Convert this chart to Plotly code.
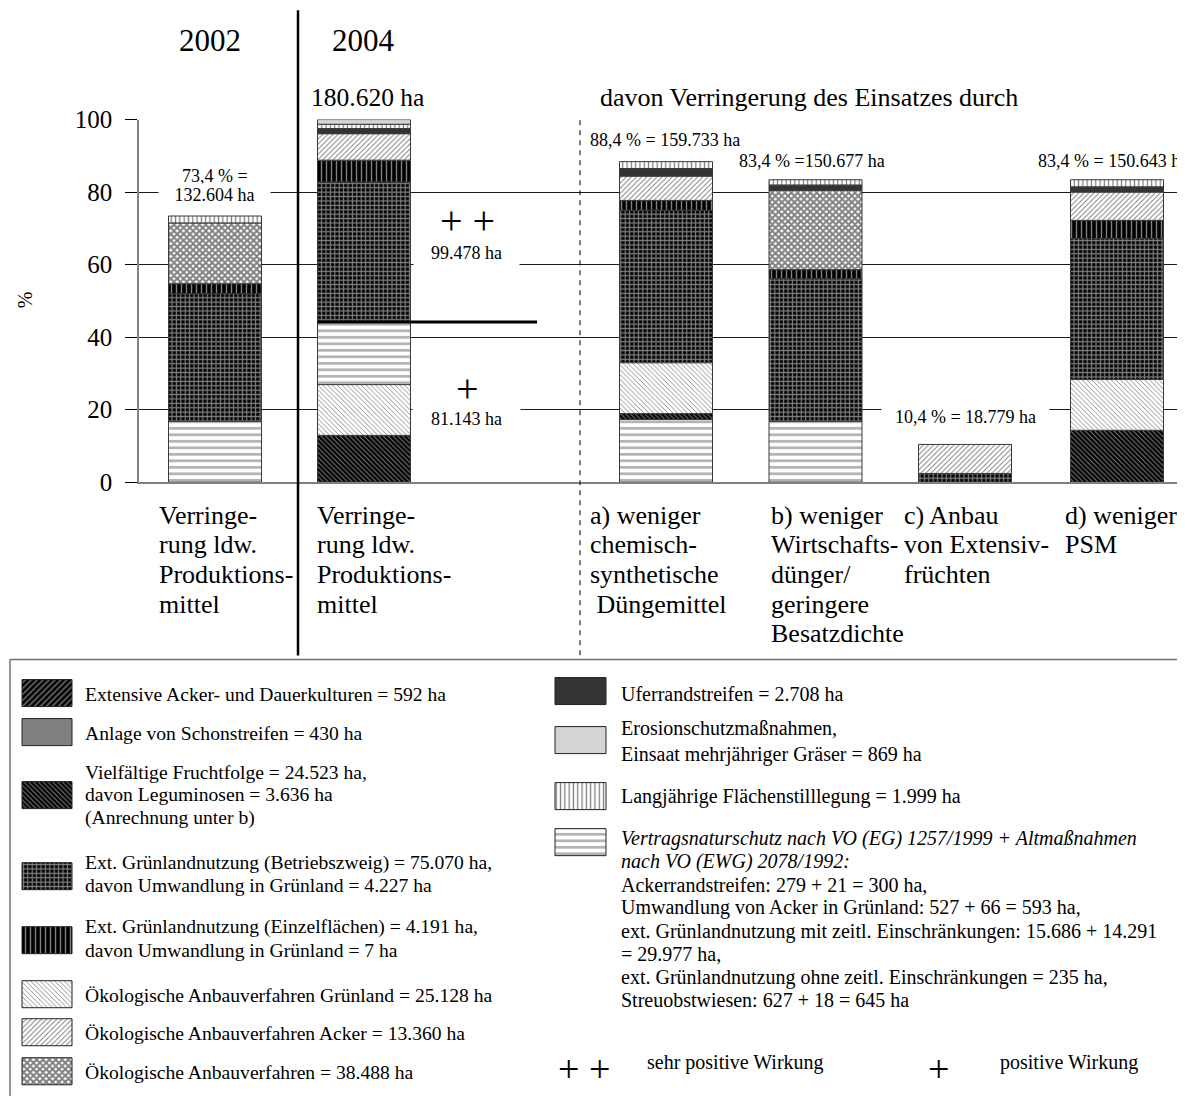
import numpy as np
import plotly.graph_objects as go

# Layout positions below are given in target-picture pixels (X, Y).
# OFF: page body margin; SY/OY: measured vertical mapping from page to picture.
OFF = 8
SY, OY = 0.975, 13.0
W, H = 1185 - OFF, 1103
FONT = "Liberation Serif, Times New Roman, serif"

def px(x):
    return (x - OFF) / W

def page_y(Y):
    return (Y - OY) / SY

def py(Y):
    return 1 - (page_y(Y) - OFF) / H

# ---------------- data ----------------
categories = ["2002", "2004", "a", "b", "c", "d"]

stack_2002 = ["Vertrag", "GrBetrieb", "GrEinzel", "Oeko", "Stilllegung"]
vals_2002 = [16.8, 35.2, 2.7, 16.8, 1.9]

stack_2004 = ["Vielfalt", "OekoGruen", "Vertrag", "GrBetrieb", "GrEinzel",
              "OekoAcker", "Ufer", "Stilllegung", "Erosion"]
vals_2004 = [12.9, 14.0, 17.3, 38.6, 6.0, 7.3, 1.4, 1.2, 1.3]

stack_a = ["Vertrag", "Vielfalt", "OekoGruen", "GrBetrieb", "GrEinzel",
           "OekoAcker", "Ufer", "Stilllegung"]
vals_a = [17.3, 1.6, 14.0, 42.1, 2.7, 6.7, 2.1, 1.9]

stack_b = ["Vertrag", "GrBetrieb", "GrEinzel", "Oeko", "Ufer", "Stilllegung"]
vals_b = [16.8, 39.3, 2.5, 21.9, 1.4, 1.5]

stack_c = ["GrBetrieb", "OekoAcker"]
vals_c = [2.4, 8.0]

stack_d = ["Vielfalt", "OekoGruen", "GrBetrieb", "GrEinzel", "OekoAcker",
           "Ufer", "Stilllegung"]
vals_d = [14.3, 14.0, 38.9, 5.0, 7.8, 1.4, 2.0]

bar_labels_top = ["73,4 % =", "132.604 ha", "88,4 % = 159.733 ha",
                  "83,4 % =150.677 ha", "10,4 % = 18.779 ha", "83,4 % = 150.643 ha"]
cat_lines = {
    "2002": ["Verringe-", "rung ldw.", "Produktions-", "mittel"],
    "2004": ["Verringe-", "rung ldw.", "Produktions-", "mittel"],
    "a": ["a) weniger", "chemisch-", "synthetische", "\u00a0Düngemittel"],
    "b": ["b) weniger", "Wirtschafts-", "dünger/", "geringere", "Besatzdichte"],
    "c": ["c) Anbau", "von Extensiv-", "früchten"],
    "d": ["d) weniger", "PSM"],
}
y_ticks = [0, 20, 40, 60, 80, 100]

legend_text = {
    "ExtAcker": ["Extensive Acker- und Dauerkulturen = 592 ha"],
    "Schon": ["Anlage von Schonstreifen = 430 ha"],
    "Vielfalt": ["Vielfältige Fruchtfolge = 24.523 ha,", "davon Leguminosen = 3.636 ha",
                 "(Anrechnung unter b)"],
    "GrBetrieb": ["Ext. Grünlandnutzung (Betriebszweig) = 75.070 ha,",
                  "davon Umwandlung in Grünland = 4.227 ha"],
    "GrEinzel": ["Ext. Grünlandnutzung (Einzelflächen) = 4.191 ha,",
                 "davon Umwandlung in Grünland = 7 ha"],
    "OekoGruen": ["Ökologische Anbauverfahren Grünland = 25.128 ha"],
    "OekoAcker": ["Ökologische Anbauverfahren Acker = 13.360 ha"],
    "Oeko": ["Ökologische Anbauverfahren = 38.488 ha"],
    "Ufer": ["Uferrandstreifen = 2.708 ha"],
    "Erosion": ["Erosionschutzmaßnahmen,", "Einsaat mehrjähriger Gräser = 869 ha"],
    "Stilllegung": ["Langjährige Flächenstilllegung = 1.999 ha"],
    "Vertrag": ["<i>Vertragsnaturschutz nach VO (EG) 1257/1999 + Altmaßnahmen</i>",
                "<i>nach VO (EWG) 2078/1992:</i>",
                "Ackerrandstreifen: 279 + 21 = 300 ha,",
                "Umwandlung von Acker in Grünland: 527 + 66 = 593 ha,",
                "ext. Grünlandnutzung mit zeitl. Einschränkungen: 15.686 + 14.291",
                "= 29.977 ha,",
                "ext. Grünlandnutzung ohne zeitl. Einschränkungen = 235 ha,",
                "Streuobstwiesen: 627 + 18 = 645 ha"],
}

# ---------------- styles / layout constants ----------------
def pat(shape, fg, bg, size, sol):
    return dict(color=bg, pattern=dict(shape=shape, fgcolor=fg, bgcolor=bg,
                                       size=size, solidity=sol, fillmode="overlay"))

styles = {
    "ExtAcker": pat("/", "white", "black", 4.2, 0.3),
    "Schon": dict(color="#808080"),
    "Vielfalt": pat("\\", "white", "black", 3.4, 0.3),
    "GrBetrieb": pat("+", "white", "black", 4.4, 0.48),
    "GrEinzel": pat("|", "white", "black", 5, 0.28),
    "OekoGruen": pat("\\", "black", "white", 3.4, 0.25),
    "OekoAcker": pat("/", "black", "white", 3.6, 0.28),
    "Oeko": pat("x", "black", "white", 4.5, 0.7),
    "Ufer": dict(color="#333333"),
    "Erosion": dict(color="#d4d4d4"),
    "Stilllegung": pat("|", "black", "white", 4.3, 0.3),
    "Vertrag": pat("-", "#666666", "white", 6.5, 0.42),
}

bar_x = [215, 364, 666, 815.5, 965, 1117]
BAR_W = 93

bars = [(bar_x[0], stack_2002, vals_2002), (bar_x[1], stack_2004, vals_2004),
        (bar_x[2], stack_a, vals_a), (bar_x[3], stack_b, vals_b),
        (bar_x[4], stack_c, vals_c), (bar_x[5], stack_d, vals_d)]

fig = go.Figure()

series = {}
for xpos, keys, vals in bars:
    bases = np.concatenate([[0], np.cumsum(vals)[:-1]])
    for k, v, b in zip(keys, vals, bases):
        series.setdefault(k, {"x": [], "y": [], "base": []})
        series[k]["x"].append(xpos)
        series[k]["y"].append(v)
        series[k]["base"].append(b)

for k, d in series.items():
    m = dict(styles[k])
    m["line"] = dict(color="#3a3a3a", width=1)
    fig.add_trace(go.Bar(x=d["x"], y=d["y"], base=d["base"], width=BAR_W,
                         marker=m, xaxis="x", yaxis="y", showlegend=False,
                         hoverinfo="skip"))

# ----- legend swatches (second axis system in picture pixel units) -----
left_keys = ["ExtAcker", "Schon", "Vielfalt", "GrBetrieb", "GrEinzel",
             "OekoGruen", "OekoAcker", "Oeko"]
left_sw_top = [679, 718, 781, 862, 926, 980, 1018, 1057]
left_txt_y = [[694], [733], [772, 794, 817], [862, 885], [926, 950], [995], [1033], [1072]]
right_keys = ["Ufer", "Erosion", "Stilllegung", "Vertrag"]
right_sw_top = [677, 726, 782, 828]
right_txt_y = [[693], [727, 754], [796], [838 + 23.1 * i for i in range(8)]]

annotations = []

def txt(x, y, text, size, xanchor="left", yanchor="middle", **kw):
    a = dict(x=px(x), y=py(y), xref="paper", yref="paper", text=text,
             showarrow=False, xanchor=xanchor, yanchor=yanchor,
             font=dict(family=FONT, size=size, color="black"))
    a.update(kw)
    annotations.append(a)

for keys, tops, tys, cx, sw_w, tx, fs in [
        (left_keys, left_sw_top, left_txt_y, 47, 50, 83, 19.6),
        (right_keys, right_sw_top, right_txt_y, 580.5, 51, 619, 20)]:
    for k, top, ys in zip(keys, tops, tys):
        m = dict(styles[k])
        m["line"] = dict(color="#222222", width=1)
        fig.add_trace(go.Bar(x=[cx], y=[27], base=[top], width=sw_w, marker=m,
                             xaxis="x2", yaxis="y2", showlegend=False,
                             hoverinfo="skip"))
        for line, yy in zip(legend_text[k], ys):
            txt(tx, yy, line, fs)

# ----- text in chart -----
txt(210, 40, "2002", 31, xanchor="center")
txt(363, 40, "2004", 31, xanchor="center")
txt(367, 97, "180.620 ha", 25.5, xanchor="center")
txt(598, 97, "davon Verringerung des Einsatzes durch", 26)

txt(bar_x[0], 176, bar_labels_top[0], 18, xanchor="center")
txt(bar_x[0], 195, bar_labels_top[1], 18, xanchor="center",
    bgcolor="white", width=111, height=22, borderpad=0)
txt(665, 140, bar_labels_top[2], 18, xanchor="center")
txt(812, 161, bar_labels_top[3], 18, xanchor="center")
txt(965.5, 417, bar_labels_top[4], 18, xanchor="center",
    bgcolor="white", width=167, height=26, borderpad=0)
txt(1036, 161, bar_labels_top[5], 18)

txt(467, 220, "+ +", 40, xanchor="center")
txt(466, 252, "99.478 ha", 18, xanchor="center",
    bgcolor="white", width=105, height=31, borderpad=0)
txt(467, 388, "+", 40, xanchor="center")
txt(466.5, 419, "81.143 ha", 18, xanchor="center",
    bgcolor="white", width=107, height=26, borderpad=0)

cat_x = {"2002": 157, "2004": 315, "a": 588, "b": 769, "c": 902, "d": 1063}
for c in categories:
    for i, line in enumerate(cat_lines[c]):
        txt(cat_x[c], 515 + 29.5 * i, line, 26)

txt(25, 300, "%", 20, xanchor="center", textangle=-90)

# legend effect symbols
txt(584, 1068, "+ +", 38, xanchor="center")
txt(645, 1062, "sehr positive Wirkung", 20)
txt(938, 1068, "+", 38, xanchor="center")
txt(998, 1062, "positive Wirkung", 20)

# ----- shapes -----
shapes = [
    dict(type="line", xref="paper", yref="paper", x0=px(298), x1=px(298),
         y0=py(10), y1=py(655), line=dict(color="black", width=2.5)),
    dict(type="line", xref="paper", yref="paper", x0=px(580), x1=px(580),
         y0=py(120), y1=py(655), line=dict(color="black", width=1, dash="5px,5px")),
    dict(type="line", xref="paper", yref="paper", x0=px(10), x1=1,
         y0=py(659), y1=py(659), line=dict(color="#707070", width=1.5)),
    dict(type="line", xref="paper", yref="paper", x0=px(10), x1=px(10),
         y0=py(659), y1=0, line=dict(color="#707070", width=1.5)),
    dict(type="line", xref="x", yref="y", x0=bar_x[1] - BAR_W / 2, x1=537,
         y0=float(sum(vals_2004[:3])), y1=float(sum(vals_2004[:3])),
         line=dict(color="black", width=3)),
]

fig.update_layout(
    width=W, height=H, margin=dict(l=0, r=0, t=0, b=0),
    paper_bgcolor="white", plot_bgcolor="white",
    barmode="overlay", showlegend=False,
    annotations=annotations, shapes=shapes,
    font=dict(family=FONT, color="black"),
    xaxis=dict(domain=[px(139), 1], range=[139, 1185], showgrid=False,
               zeroline=False, showticklabels=False, ticks="",
               showline=True, linecolor="#808080", linewidth=1.5, fixedrange=True),
    yaxis=dict(domain=[py(481.7), py(119.3)], range=[0, 100], tickvals=y_ticks,
               ticks="outside", ticklen=12, tickcolor="black", tickwidth=1,
               showgrid=True, gridcolor="#1a1a1a", gridwidth=1, zeroline=False,
               showline=True, linecolor="#808080", linewidth=1.5,
               tickfont=dict(family=FONT, size=25, color="black"),
               ticklabelstandoff=8, fixedrange=True),
    xaxis2=dict(domain=[0, 1], range=[OFF, 1185], visible=False, anchor="y2",
                fixedrange=True),
    yaxis2=dict(domain=[0, py(655)], range=[OY + SY * (OFF + H), 655], visible=False,
                anchor="x2", fixedrange=True),
)

fig.write_html("out.html")
